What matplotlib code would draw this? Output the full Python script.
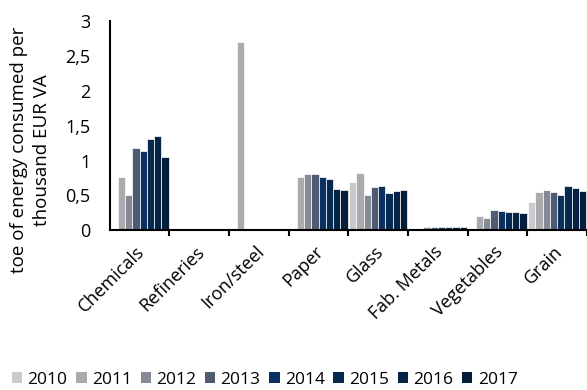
import matplotlib.pyplot as plt
import numpy as np
from matplotlib import transforms
from matplotlib.patches import Patch

plt.rcParams['font.family'] = ['Open Sans', 'DejaVu Sans']

# Energy intensity by sector, toe per thousand EUR of value added
sectors = ['Chemicals', 'Refineries', 'Iron/steel', 'Paper', 'Glass',
           'Fab. Metals', 'Vegetables', 'Grain']
years = ['2010', '2011', '2012', '2013', '2014', '2015', '2016', '2017']

# one list per year, NaN where no bar is shown
y2010 = [np.nan, np.nan, np.nan, np.nan, 0.69, np.nan, np.nan, 0.40]
y2011 = [0.76, np.nan, 2.71, 0.77, 0.82, np.nan, 0.20, 0.55]
y2012 = [0.50, np.nan, np.nan, 0.81, 0.51, 0.04, 0.18, 0.58]
y2013 = [1.18, np.nan, np.nan, 0.81, 0.62, 0.04, 0.29, 0.55]
y2014 = [1.14, np.nan, np.nan, 0.76, 0.64, 0.04, 0.27, 0.50]
y2015 = [1.31, np.nan, np.nan, 0.74, 0.53, 0.04, 0.26, 0.64]
y2016 = [1.36, np.nan, np.nan, 0.59, 0.56, 0.04, 0.26, 0.61]
y2017 = [1.05, np.nan, np.nan, 0.57, 0.58, 0.04, 0.24, 0.56]
series = [y2010, y2011, y2012, y2013, y2014, y2015, y2016, y2017]

colors = ['#c9cacc', '#a9abaf', '#868a95', '#4f5a73',
          '#0b3160', '#07294f', '#042345', '#031d3a']

fig = plt.figure(figsize=(5.87, 3.90), dpi=100)
ax = fig.add_axes([0.187, 0.41, 0.813, 0.535])

x = np.arange(len(sectors))
width = 0.122
for j, vals in enumerate(series):
    ax.bar(x + (j - 3.5) * width, vals, width, color=colors[j],
           edgecolor='white', linewidth=0.5)

ax.set_xlim(-0.5, 7.47)
ax.set_ylim(0, 3)
ax.set_yticks([0, 0.5, 1, 1.5, 2, 2.5, 3])
ax.set_yticklabels(['0', '0,5', '1', '1,5', '2', '2,5', '3'], fontsize=13)
ax.tick_params(axis='y', length=0, pad=14)

ax.set_xticks(x)
ax.set_xticklabels(sectors, rotation=45, ha='right', va='top',
                   rotation_mode='anchor', fontsize=13)
ax.tick_params(axis='x', which='major', length=0, pad=9)
shift = transforms.ScaledTranslation(-4 / 100, 0, fig.dpi_scale_trans)
for lbl in ax.get_xticklabels():
    lbl.set_transform(lbl.get_transform() + shift)
ax.set_xticks(np.arange(len(sectors)) + 0.5, minor=True)
ax.tick_params(axis='x', which='minor', length=4, width=1.5, direction='out')

for side in ['top', 'right']:
    ax.spines[side].set_visible(False)
ax.spines['left'].set_linewidth(1.5)
ax.spines['bottom'].set_linewidth(1.5)

# two-line axis title, each line centred on the same height
title_y = 1 - 150 / 390
fig.text(19 / 587, title_y, 'toe of energy consumed per', rotation=90,
         ha='center', va='center', fontsize=13.5)
fig.text(42 / 587, title_y, 'thousand EUR VA', rotation=90,
         ha='center', va='center', fontsize=13.5)

handles = [Patch(facecolor=c, edgecolor='none') for c in colors]
fig.legend(handles, years, loc='center', bbox_to_anchor=(0.451, 0.026),
           ncol=8, frameon=False, fontsize=12.5, handlelength=0.6,
           handleheight=0.6, handletextpad=0.3, columnspacing=0.5)

plt.savefig('out.png', dpi=100)
plt.close()
